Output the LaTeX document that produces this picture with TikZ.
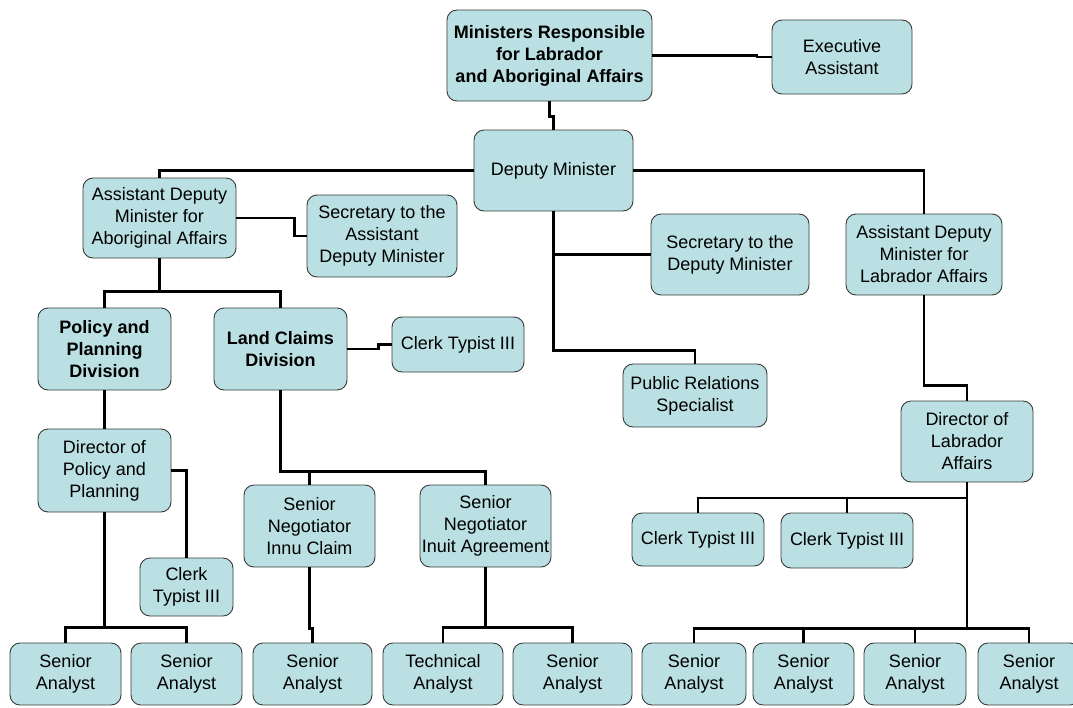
\documentclass[tikz,border=0pt]{standalone}
\usepackage{fontspec}
\setmainfont{Liberation Sans}
\definecolor{boxfill}{HTML}{BAE0E3}
\definecolor{boxline}{HTML}{3A3A3A}
\begin{document}
\begin{tikzpicture}[x=1pt,y=-1pt,
  box/.style={draw=boxline, line width=0.9pt, fill=boxfill, rounded corners=10pt, align=center, inner sep=0pt, font=\fontsize{18}{22}\selectfont},
  bbox/.style={box, font=\fontsize{18}{22}\selectfont\bfseries},
  conn/.style={draw=black, line width=2.8pt}]
\useasboundingbox (0,0) rectangle (1073,707);
\fill[white] (0,0) rectangle (1073,707);
% nodes
\node[bbox, minimum width=205pt, minimum height=91pt] (min) at (549.5,55.5) {Ministers Responsible\\for Labrador\\and Aboriginal Affairs};
\node[box, minimum width=140pt, minimum height=74pt] (exec) at (842,57) {Executive\\Assistant};
\node[box, minimum width=159pt, minimum height=81pt] (dm) at (553.5,170.5) {Deputy Minister};
\node[box, minimum width=153pt, minimum height=80pt] (adma) at (159.5,218) {Assistant Deputy\\Minister for\\Aboriginal Affairs};
\node[box, minimum width=150pt, minimum height=82pt] (secadm) at (382,236) {Secretary to the\\Assistant\\Deputy Minister};
\node[box, minimum width=158pt, minimum height=81pt] (secdm) at (730,254.5) {Secretary to the\\Deputy Minister};
\node[box, minimum width=156pt, minimum height=81pt] (adml) at (924,254.5) {Assistant Deputy\\Minister for\\Labrador Affairs};
\node[bbox, minimum width=133pt, minimum height=82pt] (pol) at (104.5,349) {Policy and\\Planning\\Division};
\node[bbox, minimum width=133pt, minimum height=82pt] (lc) at (280.5,349) {Land Claims\\Division};
\node[box, minimum width=132pt, minimum height=55pt] (clk1) at (458,344.5) {Clerk Typist III};
\node[box, minimum width=144pt, minimum height=63pt] (pr) at (695,395.5) {Public Relations\\Specialist};
\node[box, minimum width=133pt, minimum height=83pt] (dirp) at (104.5,470.5) {Director of\\Policy and\\Planning};
\node[box, minimum width=93pt, minimum height=58pt] (clk2) at (186.5,587) {Clerk\\Typist III};
\node[box, minimum width=131pt, minimum height=82pt] (sni) at (309.5,526) {Senior\\Negotiator\\Innu Claim};
\node[box, minimum width=131pt, minimum height=82pt] (snu) at (485.5,526) {Senior\\Negotiator\\Inuit Agreement};
\node[box, minimum width=132pt, minimum height=81pt] (dirl) at (967,441.5) {Director of\\Labrador\\Affairs};
\node[box, minimum width=132pt, minimum height=53pt] (clk3) at (698,539.5) {Clerk Typist III};
\node[box, minimum width=132pt, minimum height=55pt] (clk4) at (847,540.5) {Clerk Typist III};
\node[box, minimum width=111pt, minimum height=62pt] (sa1) at (65.5,674) {Senior\\Analyst};
\node[box, minimum width=111pt, minimum height=62pt] (sa2) at (186.5,674) {Senior\\Analyst};
\node[box, minimum width=119pt, minimum height=62pt] (sa3) at (312.5,674) {Senior\\Analyst};
\node[box, minimum width=120pt, minimum height=62pt] (ta) at (443,674) {Technical\\Analyst};
\node[box, minimum width=119pt, minimum height=62pt] (sa5) at (572.5,674) {Senior\\Analyst};
\node[box, minimum width=104pt, minimum height=62pt] (sa6) at (694,674) {Senior\\Analyst};
\node[box, minimum width=101pt, minimum height=62pt] (sa7) at (803.5,674) {Senior\\Analyst};
\node[box, minimum width=102pt, minimum height=62pt] (sa8) at (915,674) {Senior\\Analyst};
\node[box, minimum width=102pt, minimum height=62pt] (sa9) at (1029,674) {Senior\\Analyst};
% connectors
\draw[conn] (min.east) -- (757,55.5) |- (exec.west);
\draw[conn] (min.south) -- ++(0,15) -| (dm.north);
\draw[conn] (dm.west) -| (adma.north);
\draw[conn] (dm.east) -| (adml.north);
\draw[conn] (dm.south) -- ++(0,139) -| (pr.north);
\draw[conn] (dm.south |- secdm.west) -- (secdm.west);
\draw[conn] (adma.east) -- ++(58,0) |- (secadm.west);
\draw[conn] (adma.south) -- ++(0,34);
\draw[conn] (pol.north) -- ++(0,-16) -| (lc.north);
\draw[conn] (pol.south) -- (dirp.north);
\draw[conn] (lc.east) -- ++(31,0) |- (clk1.west);
\draw[conn] (lc.south) -- ++(0,81) -| (snu.north);
\draw[conn] (sni.north) -- ++(0,-14);
\draw[conn] (dirp.east) -| (clk2.north);
\draw[conn] (dirp.south) -- ++(0,116);
\draw[conn] (sa1.north) -- ++(0,-15) -| (sa2.north);
\draw[conn] (sni.south) -- ++(0,61) -| (sa3.north);
\draw[conn] (snu.south) -- ++(0,61);
\draw[conn] (ta.north) -- ++(0,-15) -| (sa5.north);
\draw[conn] (adml.south) -- ++(0,90) -| (dirl.north);
\draw[conn] (dirl.south) -- ++(0,147);
\draw[conn] (clk3.north) |- (dirl.south |- 0,498);
\draw[conn] (clk4.north) -- ++(0,-15);
\draw[conn] (sa6.north) -- ++(0,-14) -| (sa9.north);
\draw[conn] (sa7.north) -- ++(0,-14);
\draw[conn] (sa8.north) -- ++(0,-14);
\end{tikzpicture}
\end{document}
